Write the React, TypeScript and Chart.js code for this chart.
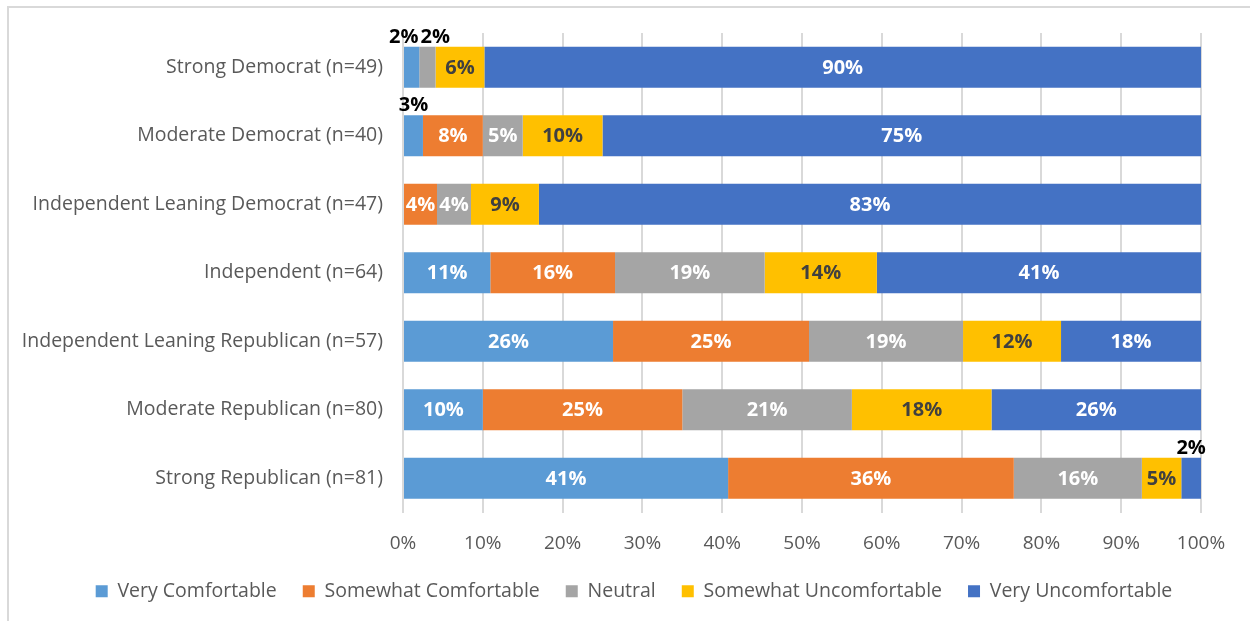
import React, { useEffect, useRef } from "react";
import { Chart, registerables } from "chart.js";

Chart.register(...registerables);

const categories = [
  "Strong Democrat (n=49)",
  "Moderate Democrat (n=40)",
  "Independent Leaning Democrat (n=47)",
  "Independent (n=64)",
  "Independent Leaning Republican (n=57)",
  "Moderate Republican (n=80)",
  "Strong Republican (n=81)",
];

const seriesNames = [
  "Very Comfortable",
  "Somewhat Comfortable",
  "Neutral",
  "Somewhat Uncomfortable",
  "Very Uncomfortable",
];

const veryComfortable = [2.04, 2.5, 0, 10.94, 26.32, 10.0, 40.74];
const somewhatComfortable = [0, 7.5, 4.26, 15.63, 24.56, 25.0, 35.8];
const neutral = [2.04, 5.0, 4.26, 18.75, 19.3, 21.25, 16.05];
const somewhatUncomfortable = [6.12, 10.0, 8.51, 14.06, 12.28, 17.5, 4.94];
const veryUncomfortable = [89.8, 75.0, 82.98, 40.63, 17.54, 26.25, 2.47];

const xTicks = [0, 10, 20, 30, 40, 50, 60, 70, 80, 90, 100];

const colors = ["#5B9BD5", "#ED7D31", "#A5A5A5", "#FFC000", "#4472C4"];
const labelColors = ["#FFFFFF", "#FFFFFF", "#FFFFFF", "#404040", "#FFFFFF"];

const FONT = "'Open Sans', sans-serif";

const framePlugin = {
  id: "frame",
  beforeDraw(chart: any) {
    const ctx = chart.ctx;
    ctx.save();
    ctx.strokeStyle = "#D9D9D9";
    ctx.lineWidth = 2;
    ctx.beginPath();
    ctx.moveTo(8, chart.height);
    ctx.lineTo(8, 7);
    ctx.lineTo(chart.width, 7);
    ctx.stroke();
    ctx.restore();
  },
};

const labelPlugin = {
  id: "barLabels",
  afterDatasetsDraw(chart: any) {
    const ctx = chart.ctx;
    ctx.save();
    ctx.font = `bold 20px ${FONT}`;
    const outside: any[][] = categories.map(() => []);
    chart.data.datasets.forEach((ds: any, di: number) => {
      const meta = chart.getDatasetMeta(di);
      meta.data.forEach((bar: any, j: number) => {
        const v = ds.data[j];
        if (!v) return;
        const text = Math.round(v) + "%";
        const tw = ctx.measureText(text).width;
        const left = Math.min(bar.x, bar.base);
        const right = Math.max(bar.x, bar.base);
        const w = right - left;
        const cx = (left + right) / 2;
        if (w >= tw * 0.85) {
          ctx.fillStyle = labelColors[di];
          ctx.textAlign = "center";
          ctx.textBaseline = "middle";
          ctx.fillText(text, cx, bar.y + 1);
        } else {
          outside[j].push({ text, tw, cx, top: bar.y - bar.height / 2 });
        }
      });
    });
    outside.forEach((items) => {
      for (let k = 1; k < items.length; k++) {
        const a = items[k - 1];
        const b = items[k];
        const need = (a.tw + b.tw) / 2 + 2;
        const gap = b.cx - a.cx;
        if (gap < need) {
          const d = (need - gap) / 2;
          a.cx -= d;
          b.cx += d;
        }
      }
      items.forEach((it) => {
        ctx.fillStyle = "#000000";
        ctx.textAlign = "center";
        ctx.textBaseline = "alphabetic";
        ctx.fillText(it.text, it.cx, it.top - 4);
      });
    });
    ctx.restore();
  },
};

export default function App() {
  const ref = useRef<HTMLCanvasElement | null>(null);

  useEffect(() => {
    if (!ref.current) return;
    const seriesData = [
      veryComfortable,
      somewhatComfortable,
      neutral,
      somewhatUncomfortable,
      veryUncomfortable,
    ];
    const chart = new Chart(ref.current, {
      type: "bar",
      data: {
        labels: categories,
        datasets: seriesNames.map((name, i) => ({
          label: name,
          data: seriesData[i],
          backgroundColor: colors[i],
          borderWidth: 0,
          barPercentage: 0.6,
          categoryPercentage: 1,
        })),
      },
      options: {
        indexAxis: "y",
        animation: false,
        responsive: false,
        maintainAspectRatio: false,
        layout: { padding: { left: 0, right: 0, top: 33, bottom: 10 } },
        plugins: {
          legend: {
            position: "bottom",
            labels: {
              boxWidth: 12,
              boxHeight: 12,
              padding: 26,
              color: "#595959",
              font: { family: FONT, size: 19.5 },
            },
          },
          tooltip: { enabled: false },
          title: { display: false },
        },
        scales: {
          x: {
            stacked: true,
            min: 0,
            max: 100,
            afterBuildTicks: (scale: any) => {
              scale.ticks = xTicks.map((v) => ({ value: v }));
            },
            afterFit: (scale: any) => {
              scale.height = 43;
            },
            grid: { color: "#D9D9D9", lineWidth: 2, drawTicks: false },
            border: { display: false },
            ticks: {
              padding: 20,
              color: "#595959",
              font: { family: FONT, size: 19 },
              callback: (v: any) => v + "%",
            },
          },
          y: {
            stacked: true,
            afterFit: (scale: any) => {
              scale.width = 403;
            },
            grid: { display: false, drawTicks: false },
            border: { display: false },
            ticks: {
              padding: 20,
              color: "#595959",
              font: { family: FONT, size: 19.5 },
            },
          },
          yRight: {
            type: "category",
            position: "right",
            labels: categories,
            display: true,
            afterFit: (scale: any) => {
              scale.width = 67;
            },
            grid: { display: false, drawTicks: false },
            border: { display: false },
            ticks: { display: false },
          },
        },
      } as any,
      plugins: [framePlugin, labelPlugin],
    });
    return () => chart.destroy();
  }, []);

  return (
    <div
      style={{
        position: "fixed",
        left: 0,
        top: 0,
        width: 1250,
        height: 621,
        overflow: "hidden",
        background: "#ffffff",
      }}
    >
      <canvas
        ref={ref}
        width={1268}
        height={621}
        style={{ position: "absolute", left: 0, top: 0, width: 1268, height: 621 }}
      />
    </div>
  );
}
